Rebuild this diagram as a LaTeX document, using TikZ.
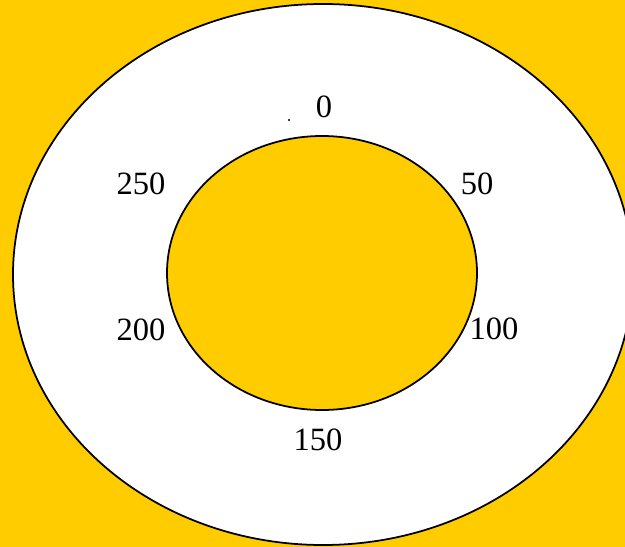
\documentclass[tikz,border=0pt]{standalone}
\usepackage{fontspec}
\setmainfont{Liberation Serif}
\usetikzlibrary{positioning}
\definecolor{dialYellow}{HTML}{FFCC00}

\begin{document}
\begin{tikzpicture}[x=0.02cm, y=-0.02cm,
    every node/.style={font=\fontsize{18.5}{22}\selectfont, inner sep=0pt},
    rim/.style={draw=black, line width=1pt}]
    % Background
    \fill[dialYellow] (0,0) rectangle (625,547);
    \useasboundingbox (0,0) rectangle (625,547);

    % Outer ring and inner disc
    \draw[rim, fill=white] (323,274.5) ellipse [x radius=310, y radius=270.5];
    \draw[rim, fill=dialYellow] (322,273) ellipse [x radius=155, y radius=137];

    % Stray dot
    \fill (289,120) circle [radius=1.2];

    % Scale labels
    \node (lab0)   at (324,107) {0};
    \node (lab50)  at (477,184) {50};
    \node (lab100) at (494,329) {100};
    \node (lab150) at (318,440) {150};
    \node (lab200) at (141,330) {200};
    \node (lab250) at (141,184) {250};
\end{tikzpicture}
\end{document}
